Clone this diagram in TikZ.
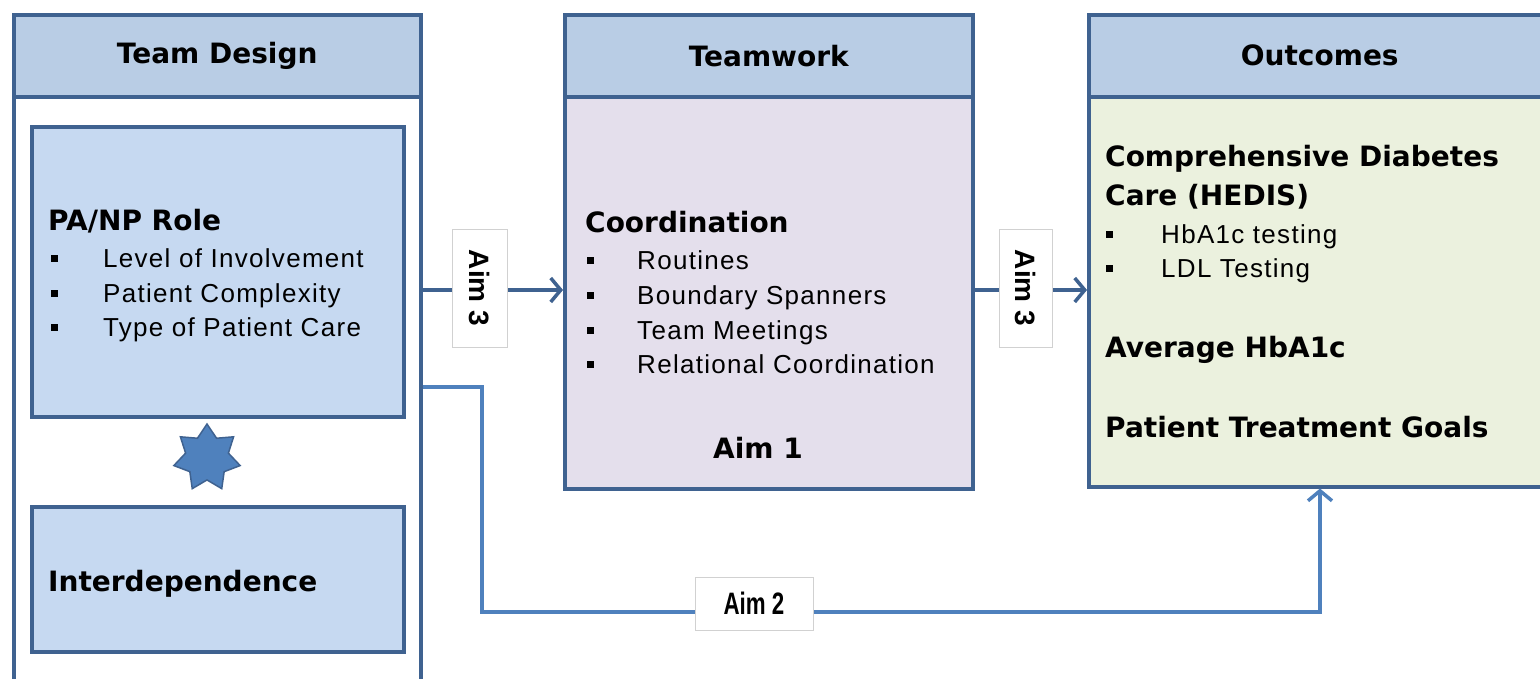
\documentclass[tikz,border=0pt]{standalone}
\usepackage{fontspec}
\setmainfont{DejaVu Sans}
\newfontfamily\listface[LetterSpace=5]{Liberation Sans}
\newfontfamily\aimface{Liberation Sans}
\newfontfamily\aimnarrowface[FakeStretch=0.72]{Liberation Sans}
\usetikzlibrary{arrows.meta,shapes.geometric}

\definecolor{edge}{HTML}{3F6290}
\definecolor{hdrfill}{HTML}{B9CDE5}
\definecolor{innerfill}{HTML}{C6D9F1}
\definecolor{twfill}{HTML}{E4DFEC}
\definecolor{ocfill}{HTML}{EBF1DE}
\definecolor{starfill}{HTML}{4F81BD}
\definecolor{aimtwo}{HTML}{4F81BD}

\newcommand\hdfont{\fontsize{28pt}{34pt}\selectfont\bfseries}
\newcommand\lsfont{\listface\fontsize{26pt}{31pt}\selectfont}
\newcommand\sqb{\raisebox{5pt}{\rule{7pt}{7pt}}}
\newcommand\bitem[2]{\makebox[#1][l]{\sqb}#2}

\tikzset{
  panel/.style={draw=edge, line width=3.5pt, anchor=north west, inner sep=0pt},
  header/.style={panel, fill=hdrfill, minimum height=82pt, font=\hdfont},
  innerbox/.style={panel, fill=innerfill},
  heading/.style={anchor=base west, inner sep=0pt, font=\hdfont},
  listline/.style={anchor=base west, inner sep=0pt, font=\lsfont},
  link/.style={draw=edge, line width=3.5pt,
    -{Straight Barb[length=10pt,width=24pt,line width=3.5pt]}},
  linktwo/.style={link, draw=aimtwo},
  aimtag/.style={draw=black!18, line width=0.8pt, fill=white, inner sep=0pt},
}

\begin{document}
\begin{tikzpicture}[x=1pt,y=-1pt]
\useasboundingbox (0,0) rectangle (1540,678);
\clip (0,0) rectangle (1540,678);

% ---- Team Design column
\node[panel, fill=white, minimum width=407pt, minimum height=640pt] (tdbody) at (12,95) {};
\node[header, minimum width=407pt] (tdhead) at (12,13) {Team Design};
\node[innerbox, minimum width=372pt, minimum height=290pt] (panp) at (30,125) {};
\node[innerbox, minimum width=372pt, minimum height=145pt] (inter) at (30,505) {};
\node[star, star points=7, star point ratio=1.55, minimum size=68pt, inner sep=0pt,
      fill=starfill, draw=edge, line width=1.5pt] (joint) at (207,458) {};

\node[heading] (panpt) at (48,230) {PA/NP Role};
\node[listline] (panp1) at (51,267) {\bitem{52pt}{Level of Involvement}};
\node[listline] (panp2) at (51,302) {\bitem{52pt}{Patient Complexity}};
\node[listline] (panp3) at (51,336) {\bitem{52pt}{Type of Patient Care}};
\node[heading] (intert) at (48,591) {Interdependence};

% ---- Teamwork column
\node[panel, fill=twfill, minimum width=408pt, minimum height=392pt] (twbody) at (563,95) {};
\node[header, minimum width=408pt] (twhead) at (563,13) {Teamwork};
\node[heading] (coord) at (585,232) {Coordination};
\node[listline] (tw1) at (587,269) {\bitem{50pt}{Routines}};
\node[listline] (tw2) at (587,304) {\bitem{50pt}{Boundary Spanners}};
\node[listline] (tw3) at (587,339) {\bitem{50pt}{Team Meetings}};
\node[listline] (tw4) at (587,373) {\bitem{50pt}{Relational Coordination}};
\node[heading] (aimone) at (713,458) {Aim 1};

% ---- Outcomes column (runs past the right edge)
\node[panel, fill=ocfill, minimum width=462pt, minimum height=390pt] (ocbody) at (1087,95) {};
\node[header, minimum width=462pt] (ochead) at (1087,13) {Outcomes};
\node[heading] (oc1) at (1105,166) {Comprehensive Diabetes};
\node[heading] (oc2) at (1105,205) {Care (HEDIS)};
\node[listline] (oc3) at (1106,243) {\bitem{55pt}{HbA1c testing}};
\node[listline] (oc4) at (1106,277) {\bitem{55pt}{LDL Testing}};
\node[heading] (oc5) at (1105,357) {Average HbA1c};
\node[heading] (oc6) at (1105,437) {Patient Treatment Goals};

% ---- connectors
\coordinate (rowa) at (0,290);
\coordinate (rowb) at (0,387);
\coordinate (benda) at (482,612);
\coordinate (bendb) at (1320,612);
\draw[link] (tdbody.east |- rowa) -- (twbody.west |- rowa);
\draw[link] (twbody.east |- rowa) -- (ocbody.west |- rowa);
\draw[linktwo] (tdbody.east |- rowb) -| (benda) -- (bendb) -- (bendb |- ocbody.south);

% ---- aim tags
\node[aimtag, rotate=-90, minimum width=118pt, minimum height=55pt,
      font=\aimface\fontsize{28pt}{32pt}\selectfont\bfseries] (aimthreea) at (479.5,288) {Aim 3};
\node[aimtag, rotate=-90, minimum width=118pt, minimum height=53pt,
      font=\aimface\fontsize{28pt}{32pt}\selectfont\bfseries] (aimthreeb) at (1025.5,288) {Aim 3};
\node[aimtag, minimum width=118pt, minimum height=53pt,
      font=\aimnarrowface\fontsize{31pt}{34pt}\selectfont\bfseries] (aimtwo) at (754,603.5) {Aim 2};
\end{tikzpicture}
\end{document}
